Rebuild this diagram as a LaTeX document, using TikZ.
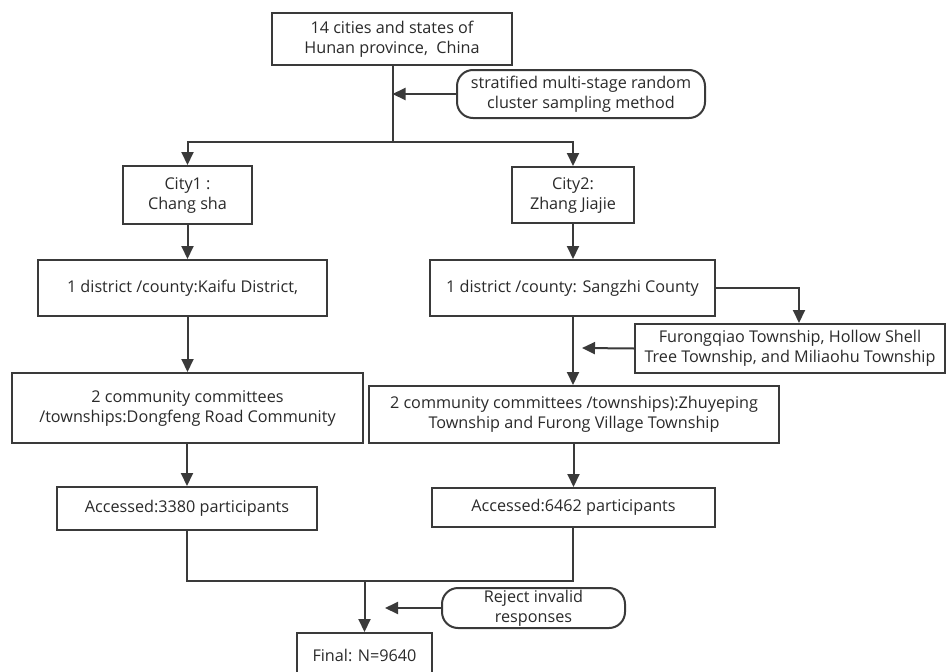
\documentclass[tikz,border=0pt]{standalone}
\usepackage{fontspec}
\setmainfont{Open Sans}
\usetikzlibrary{arrows.meta,calc}
\definecolor{ln}{HTML}{3A3A3A}
\definecolor{tx}{HTML}{2A2A2A}
\begin{document}
\begin{tikzpicture}[x=1pt,y=-1pt,
  box/.style={draw=ln,line width=2pt,rectangle,align=center,inner sep=0pt,text=tx,
    font=\fontsize{16.2}{20}\selectfont},
  rbox/.style={box,rounded corners=16pt},
  line/.style={draw=ln,line width=2pt},
  arr/.style={line,-{Triangle[length=13pt,width=12pt]}}]
\clip (0,0) rectangle (951,672);
\fill[white] (0,0) rectangle (951,672);
% nodes
\node[box,minimum width=240pt,minimum height=52pt] (top) at (392,39) {14 cities and states of\\Hunan province,\ \ China};
\node[rbox,minimum width=248pt,minimum height=48pt] (strat) at (581,94) {stratified multi-stage random\\cluster sampling method};
\node[box,minimum width=129pt,minimum height=58pt] (city1) at (187.5,195) {City1 :\\Chang sha};
\node[box,minimum width=122pt,minimum height=56pt] (city2) at (573,195) {City2:\\Zhang Jiajie};
\node[box,minimum width=289pt,minimum height=56pt] (kaifu) at (182.5,288) {1 district /county:Kaifu District,};
\node[box,minimum width=285pt,minimum height=56pt] (sangzhi) at (572.5,288) {1 district /county: Sangzhi County};
\node[box,minimum width=310pt,minimum height=49pt] (furong) at (790,348.5) {Furongqiao Township, Hollow Shell\\Tree Township, and Miliaohu Township};
\node[box,minimum width=351pt,minimum height=70pt] (comL) at (187.5,408) {2 community committees\\/townships:Dongfeng Road Community};
\node[box,minimum width=410pt,minimum height=57pt] (comR) at (574,414.5) {2 community committees /townships):Zhuyeping\\Township and Furong Village Township};
\node[box,minimum width=260pt,minimum height=43pt] (accL) at (187,508.5) {Accessed:3380 participants};
\node[box,minimum width=283pt,minimum height=39pt] (accR) at (573.5,507.5) {Accessed:6462 participants};
\node[rbox,minimum width=183pt,minimum height=40pt] (reject) at (533.5,608) {Reject invalid\\responses};
\node[box,minimum width=135pt,minimum height=54pt,text depth=0pt] (final) at (364.5,660) {};
\node[text=tx,font=\fontsize{16.2}{20}\selectfont] (finalt) at (364.5,655) {Final: N=9640};
% coordinates
\coordinate (sp) at (392.5,142);
\coordinate (fe) at (582,348);
\coordinate (mL) at (187,581);
\coordinate (mR) at (573,581);
\coordinate (mj) at (364.5,581);
\coordinate (re) at (385,608);
% connectors
\draw[line] (top.south -| sp) -- (sp);
\draw[arr] (sp) -| (city1.north);
\draw[arr] (sp) -| (city2.north);
\draw[arr] (strat.west) -- (strat.west -| sp);
\draw[arr] (city1.south) -- (city1.south |- kaifu.north);
\draw[arr] (kaifu.south -| comL.north) -- (comL.north);
\draw[arr] (comL.south -| accL.north) -- (accL.north);
\draw[arr] (city2.south) -- (city2.south |- sangzhi.north);
\draw[arr] (sangzhi.east) -| ([xshift=9pt]furong.north);
\draw[arr] (sangzhi.south -| city2.south) -- (comR.north -| city2.south);
\draw[arr] (furong.west) -- (fe);
\draw[arr] (comR.south -| accR.north) -- (accR.north);
\draw[line] (accL.south -| mL) -- (mL) -- (mR) -- (accR.south -| mR);
\draw[arr] (mj) -- (final.north);
\draw[arr] (reject.west) -- (re);
\end{tikzpicture}
\end{document}
